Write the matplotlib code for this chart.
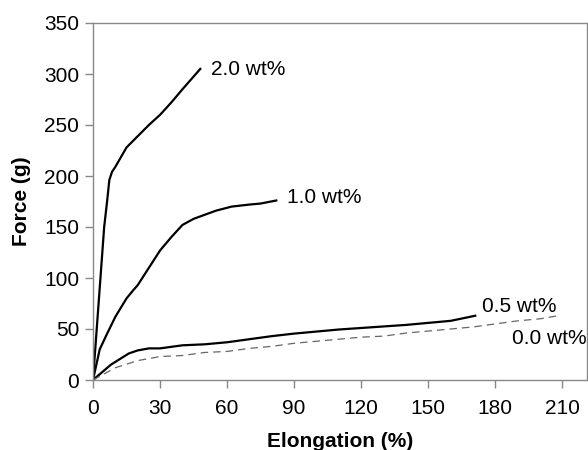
import matplotlib
matplotlib.use("Agg")
from matplotlib import pyplot as plt

plt.rcParams['font.family'] = ['Liberation Sans', 'DejaVu Sans']

# 2.0 wt%
x_20 = [0, 2, 4, 5, 6.3, 7.3, 8.5, 10, 15, 20, 25, 30, 35, 40, 48]
y_20 = [0, 60, 120, 150, 175, 196, 204, 209, 228, 239, 250, 260, 272, 285, 305]

# 1.0 wt%
x_10 = [0, 3, 6, 10, 15, 18, 20, 25, 30, 35, 40, 45, 50, 55, 62, 70, 75, 82]
y_10 = [0, 30, 44, 62, 80, 88, 93, 110, 127, 140, 152, 158, 162, 166, 170, 172, 173, 176]

# 0.5 wt%
x_05 = [0, 8, 16, 20, 25, 30, 40, 50, 60, 70, 80, 90, 100, 110, 120, 130, 140, 150, 160, 171]
y_05 = [0, 15, 26, 29, 31, 31, 34, 35, 37, 40, 43, 45.5, 47.5, 49.5, 51, 52.5, 54, 56, 58, 63]

# 0.0 wt%
x_00 = [0, 10, 20, 30, 40, 50, 60, 70, 80, 90, 100, 110, 120, 130, 140, 150, 160, 170, 180, 190, 200, 208]
y_00 = [0, 12, 19, 23, 24, 27, 28, 31, 33, 36, 38, 40, 42, 43, 46, 48, 50, 52, 55, 58, 60, 63]

labels = ["2.0 wt%", "1.0 wt%", "0.5 wt%", "0.0 wt%"]
label_pos = [(53, 304), (87, 179), (174, 72), (187.5, 41)]

fig = plt.figure(figsize=(5.88, 4.5), dpi=100)
ax = fig.add_axes([93 / 588, 1 - 380 / 450, (587 - 93) / 588, (380 - 23) / 450])

ax.plot(x_20, y_20, color="black", lw=1.6)
ax.plot(x_10, y_10, color="black", lw=1.6)
ax.plot(x_05, y_05, color="black", lw=1.6)
ax.plot(x_00, y_00, color="#666666", lw=0.9, dashes=(6, 4))

for txt, (tx, ty) in zip(labels, label_pos):
    ax.text(tx, ty, txt, fontsize=15, va="center", ha="left")

ax.set_xlim(0, 221)
ax.set_ylim(0, 350)
ax.set_xticks(range(0, 211, 30))
ax.set_yticks(range(0, 351, 50))
ax.tick_params(axis="both", labelsize=15, length=6, width=1, color="#888888", direction="out")
ax.tick_params(axis="y", pad=4)
ax.tick_params(axis="x", pad=8)
for s in ax.spines.values():
    s.set_color("#888888")
    s.set_linewidth(1)

ax.set_xlabel("Elongation (%)", fontsize=15, fontweight="bold", labelpad=10)
ax.set_ylabel("Force (g)", fontsize=15, fontweight="bold", labelpad=9)

plt.savefig("out.png", dpi=100)
